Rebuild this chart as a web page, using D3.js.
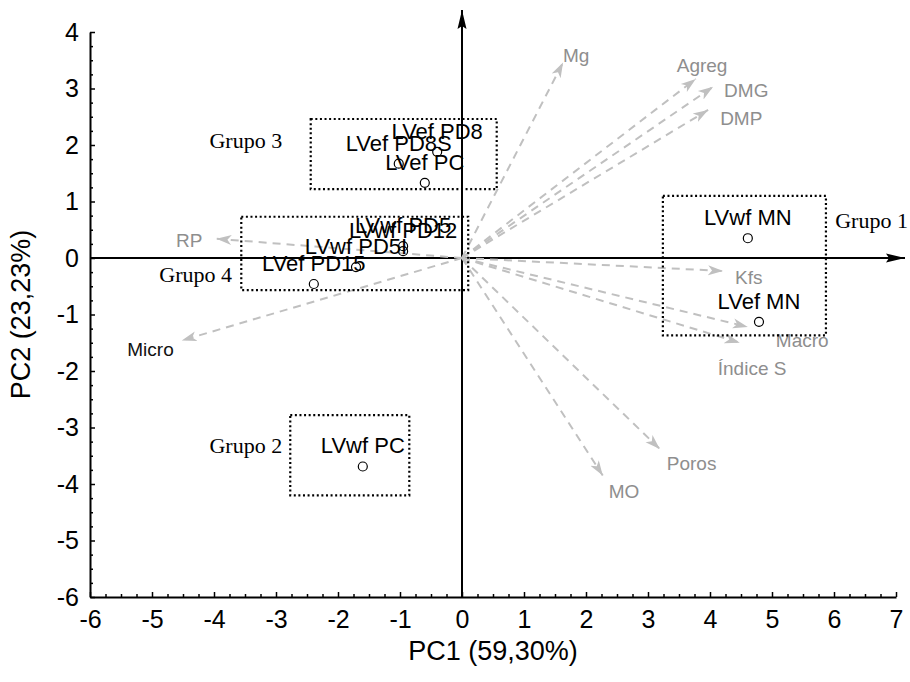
<!DOCTYPE html>
<html>
<head>
<meta charset="utf-8">
<script src="https://cdn.jsdelivr.net/npm/d3@7"></script>
<style>
  body { margin: 0; background: #fff; }
  text { font-family: "Liberation Sans", Arial, sans-serif; }
</style>
</head>
<body>
<div id="chart"></div>
<script>
// sample scores (PC1, PC2)
const sampleNames = ["LVwf MN", "LVef MN", "LVwf PC", "LVef PD8", "LVef PD8S", "LVef PC",
                     "LVwf PD5", "LVwf PD12", "LVwf PD5I", "LVef PD15"];
const scorePC1 = [4.61, 4.79, -1.60, -0.40, -1.02, -0.60, -0.95, -0.95, -1.71, -2.39];
const scorePC2 = [0.35, -1.13, -3.69, 1.88, 1.67, 1.33, 0.21, 0.12, -0.16, -0.46];

// variable loadings (arrow tips)
const varNames = ["Mg", "Agreg", "DMG", "DMP", "Kfs", "Macro", "Índice S", "Poros", "MO", "Micro", "RP"];
const loadPC1 = [1.63, 3.77, 4.05, 3.97, 4.21, 4.61, 4.48, 3.19, 2.27, -4.52, -3.96];
const loadPC2 = [3.46, 3.17, 3.03, 2.62, -0.23, -1.22, -1.50, -3.38, -3.85, -1.46, 0.34];

// groups (dotted boxes)
const groupNames = ["Grupo 1", "Grupo 2", "Grupo 3", "Grupo 4"];
const groupXmin = [3.24, -2.77, -2.44, -3.56];
const groupXmax = [5.87, -0.85, 0.56, 0.10];
const groupYmin = [-1.37, -4.20, 1.22, -0.57];
const groupYmax = [1.10, -2.78, 2.46, 0.73];
const groupLabelPC1 = [6.02, -2.90, -2.90, -3.71];
const groupLabelPC2 = [0.53, -3.46, 1.95, -0.43];

const xTicks = d3.range(-6, 8);
const yTicks = d3.range(-6, 5);

var cfg = {
  w: 910,
  h: 682,
  margin: {top: 32, right: 14, bottom: 85, left: 90},
  arrowColor: "#c0c0c0",
  varColor: "#8e8e8e"
};
const W = cfg.w - cfg.margin.left - cfg.margin.right;
const H = cfg.h - cfg.margin.top - cfg.margin.bottom;

const svg = d3.select("#chart").append("svg")
  .attr("width", cfg.w)
  .attr("height", cfg.h);

const defs = svg.append("defs");
defs.append("marker")
  .attr("id", "grayHead")
  .attr("markerUnits", "userSpaceOnUse")
  .attr("viewBox", "0 -6 16 12")
  .attr("markerWidth", 16).attr("markerHeight", 12)
  .attr("refX", 15).attr("refY", 0)
  .attr("orient", "auto")
  .append("path")
  .attr("d", "M0,-5 L15,0 L0,5 L4,0 Z")
  .attr("fill", cfg.arrowColor);
defs.append("marker")
  .attr("id", "blackHead")
  .attr("markerUnits", "userSpaceOnUse")
  .attr("viewBox", "0 -6 20 12")
  .attr("markerWidth", 20).attr("markerHeight", 12)
  .attr("refX", 19).attr("refY", 0)
  .attr("orient", "auto")
  .append("path")
  .attr("d", "M0,-4.5 L19,0 L0,4.5 L3,0 Z")
  .attr("fill", "#000");

const g = svg.append("g")
  .attr("transform", "translate(" + cfg.margin.left + "," + cfg.margin.top + ")");

const x = d3.scaleLinear().domain([-6, 7]).range([0, W]);
const y = d3.scaleLinear().domain([-6, 4]).range([H, 0]);

// minor ticks every 0.25
const minorX = d3.range(-6, 7.001, 0.25).filter(v => Math.abs(v - Math.round(v)) > 1e-6);
const minorY = d3.range(-6, 4.001, 0.25).filter(v => Math.abs(v - Math.round(v)) > 1e-6);

g.append("g")
  .attr("transform", "translate(0," + H + ")")
  .call(d3.axisBottom(x).tickValues(minorX).tickSize(-3).tickFormat(""))
  .call(a => a.select(".domain").remove());
g.append("g")
  .call(d3.axisLeft(y).tickValues(minorY).tickSize(-3).tickFormat(""))
  .call(a => a.select(".domain").remove());

const plain = d => String(d);   // hyphen minus like the original
const xAxis = g.append("g")
  .attr("transform", "translate(0," + H + ")")
  .call(d3.axisBottom(x).tickValues(xTicks).tickFormat(plain).tickSize(-5).tickSizeOuter(0).tickPadding(13));
const yAxis = g.append("g")
  .call(d3.axisLeft(y).tickValues(yTicks).tickFormat(plain).tickSize(-5).tickSizeOuter(0).tickPadding(11));

[xAxis, yAxis].forEach(a => {
  a.select(".domain").attr("stroke-width", 2);
  a.selectAll(".tick text").style("font-size", "25px").attr("fill", "#000");
});
g.selectAll(".tick line").attr("stroke-width", 1.5);

// axis titles
g.append("text")
  .attr("x", W / 2).attr("y", H + 63)
  .attr("text-anchor", "middle")
  .style("font-size", "27px")
  .text("PC1 (59,30%)");
g.append("text")
  .attr("transform", "translate(" + (-60) + "," + (H / 2) + ") rotate(-90)")
  .attr("text-anchor", "middle")
  .style("font-size", "27px")
  .text("PC2 (23,23%)");

// zero lines with arrows
g.append("line")
  .attr("x1", x(0)).attr("x2", x(0))
  .attr("y1", H).attr("y2", -22)
  .attr("stroke", "#000").attr("stroke-width", 2)
  .attr("marker-end", "url(#blackHead)");
g.append("line")
  .attr("x1", 0).attr("x2", W + 9)
  .attr("y1", y(0)).attr("y2", y(0))
  .attr("stroke", "#000").attr("stroke-width", 2)
  .attr("marker-end", "url(#blackHead)");

// loading vectors
const labelPos = {
  "Mg":       {dx: 0,   dy: -1,  anchor: "start"},
  "Agreg":    {dx: -19, dy: -7,  anchor: "start"},
  "DMG":      {dx: 11,  dy: 10,  anchor: "start"},
  "DMP":      {dx: 12,  dy: 15,  anchor: "start"},
  "Kfs":      {dx: 12,  dy: 13,  anchor: "start"},
  "Macro":    {dx: 28,  dy: 20,  anchor: "start"},
  "Índice S": {dx: -22, dy: 32,  anchor: "start"},
  "Poros":    {dx: 7,   dy: 21,  anchor: "start"},
  "MO":       {dx: 6,   dy: 22,  anchor: "start"},
  "Micro":    {dx: -8,  dy: 16,  anchor: "end"},
  "RP":       {dx: -14, dy: 8,   anchor: "end"}
};

const vec = g.append("g").selectAll("g")
  .data(varNames.map((n, i) => ({name: n, a: loadPC1[i], b: loadPC2[i]})))
  .enter().append("g");
vec.append("line")
  .attr("x1", x(0)).attr("y1", y(0))
  .attr("x2", d => x(d.a)).attr("y2", d => y(d.b))
  .attr("stroke", cfg.arrowColor)
  .attr("stroke-width", 2)
  .attr("stroke-dasharray", "8,6")
  .attr("marker-end", "url(#grayHead)");
vec.append("text")
  .attr("x", d => x(d.a) + labelPos[d.name].dx)
  .attr("y", d => y(d.b) + labelPos[d.name].dy)
  .attr("text-anchor", d => labelPos[d.name].anchor)
  .style("font-size", "19px")
  .attr("fill", d => d.name === "Micro" ? "#111" : cfg.varColor)
  .text(d => d.name);

// group boxes
const groups = groupNames.map((n, i) => ({
  name: n, x0: groupXmin[i], x1: groupXmax[i], y0: groupYmin[i], y1: groupYmax[i],
  lx: groupLabelPC1[i], ly: groupLabelPC2[i]
}));
g.append("g").selectAll("rect")
  .data(groups)
  .enter().append("rect")
  .attr("x", d => x(d.x0))
  .attr("y", d => y(d.y1))
  .attr("width", d => x(d.x1) - x(d.x0))
  .attr("height", d => y(d.y0) - y(d.y1))
  .attr("fill", "none")
  .attr("stroke", "#000")
  .attr("stroke-width", 2.2)
  .attr("stroke-dasharray", "2,2.6");
g.append("g").selectAll("text")
  .data(groups)
  .enter().append("text")
  .attr("x", d => x(d.lx))
  .attr("y", d => y(d.ly))
  .attr("text-anchor", d => d.lx > d.x1 ? "start" : "end")
  .style("font-family", "'Liberation Serif', 'Times New Roman', serif")
  .style("font-size", "22px")
  .text(d => d.name);

// sample points
const pts = g.append("g").selectAll("g")
  .data(sampleNames.map((n, i) => ({name: n, a: scorePC1[i], b: scorePC2[i]})))
  .enter().append("g");
pts.append("text")
  .attr("x", d => x(d.a))
  .attr("y", d => y(d.b) - 13)
  .attr("text-anchor", "middle")
  .style("font-size", "22px")
  .text(d => d.name);
pts.append("circle")
  .attr("cx", d => x(d.a))
  .attr("cy", d => y(d.b))
  .attr("r", 4.5)
  .attr("fill", "none")
  .attr("stroke", "#000")
  .attr("stroke-width", 1.2);
</script>
</body>
</html>
